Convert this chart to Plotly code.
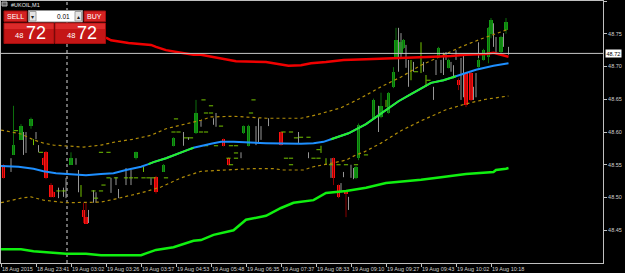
import plotly.graph_objects as go

# ---------------- axis labels ----------------
time_labels = ["18 Aug 2015", "18 Aug 23:41", "19 Aug 03:02", "19 Aug 03:26", "19 Aug 03:57",
               "19 Aug 04:53", "19 Aug 05:48", "19 Aug 06:35", "19 Aug 07:37", "19 Aug 08:33",
               "19 Aug 09:10", "19 Aug 09:27", "19 Aug 09:43", "19 Aug 10:02", "19 Aug 10:18"]
time_label_bars = [0, 14, 28, 42, 56, 70, 84, 98, 112, 126, 140, 154, 168, 182, 196]
price_ticks = [48.45, 48.50, 48.55, 48.60, 48.65, 48.70, 48.75, 48.80]
last_price = 48.72
day_separator_bar = 26.4
symbol_title = "#UKOIL,M1"

# ---------------- candles ----------------
bull_idx = [5, 8, 12, 28, 54, 65, 69, 78, 97, 99, 142, 143, 149, 152, 155, 157, 158, 160, 161, 175, 179, 191, 193, 195, 196, 200, 202]
bull_open = [48.565, 48.588, 48.609, 48.550, 48.560, 48.539, 48.579, 48.598, 48.598, 48.579, 48.530, 48.560, 48.621, 48.623, 48.629, 48.669, 48.713, 48.721, 48.728, 48.715, 48.698, 48.699, 48.710, 48.715, 48.749, 48.722, 48.756]
bull_close = [48.580, 48.609, 48.620, 48.560, 48.569, 48.550, 48.591, 48.629, 48.609, 48.609, 48.547, 48.611, 48.649, 48.640, 48.660, 48.692, 48.740, 48.737, 48.740, 48.728, 48.710, 48.710, 48.725, 48.759, 48.771, 48.745, 48.768]
bull_high = [48.640, 48.612, 48.622, 48.569, 48.570, 48.551, 48.592, 48.649, 48.610, 48.611, 48.548, 48.613, 48.651, 48.660, 48.661, 48.699, 48.759, 48.740, 48.742, 48.730, 48.712, 48.713, 48.727, 48.760, 48.774, 48.747, 48.774]
bull_low = [48.565, 48.588, 48.605, 48.550, 48.558, 48.539, 48.578, 48.597, 48.597, 48.578, 48.528, 48.557, 48.620, 48.621, 48.628, 48.667, 48.712, 48.719, 48.727, 48.713, 48.697, 48.698, 48.709, 48.705, 48.743, 48.720, 48.750]

bear_idx = [1, 17, 18, 20, 21, 33, 34, 62, 89, 91, 112, 133, 135, 138, 183, 186, 188]
bear_open = [48.550, 48.560, 48.569, 48.519, 48.508, 48.481, 48.470, 48.531, 48.589, 48.560, 48.600, 48.560, 48.519, 48.509, 48.679, 48.690, 48.690]
bear_close = [48.530, 48.550, 48.530, 48.501, 48.501, 48.470, 48.460, 48.508, 48.579, 48.550, 48.580, 48.530, 48.501, 48.505, 48.672, 48.641, 48.649]
bear_high = [48.551, 48.561, 48.571, 48.522, 48.509, 48.492, 48.492, 48.533, 48.590, 48.561, 48.601, 48.561, 48.520, 48.510, 48.682, 48.692, 48.692]
bear_low = [48.529, 48.549, 48.528, 48.500, 48.500, 48.461, 48.460, 48.506, 48.578, 48.549, 48.579, 48.519, 48.499, 48.470, 48.664, 48.638, 48.647]

# doji bars (gray range lines)
gray_idx = [4, 9, 10, 14, 15, 23, 25, 26, 30, 31, 35, 37, 38, 44, 46, 47, 50, 52, 60, 73,
            75, 80, 85, 86, 96, 102, 103, 104, 107, 119, 123, 132, 136, 137, 139, 140, 141, 151, 159, 160,
            162, 163, 165, 169, 173, 174, 176, 177, 178, 180, 181, 182, 184, 185, 189, 190, 191, 197, 198, 201, 203]
gray_high = [48.560, 48.600, 48.600, 48.600, 48.580, 48.515, 48.515, 48.530, 48.560, 48.542, 48.481, 48.511, 48.508, 48.530, 48.531, 48.513, 48.545, 48.542, 48.531, 48.600,
             48.592, 48.618, 48.621, 48.629, 48.569, 48.609, 48.621, 48.609, 48.621, 48.600, 48.569, 48.560, 48.522, 48.539, 48.501, 48.550, 48.545, 48.640, 48.759, 48.751,
             48.733, 48.710, 48.707, 48.707, 48.669, 48.710, 48.710, 48.721, 48.722, 48.707, 48.702, 48.725, 48.713, 48.718, 48.669, 48.690, 48.737, 48.766, 48.745, 48.751, 48.730]
gray_low = [48.539, 48.565, 48.568, 48.589, 48.569, 48.499, 48.501, 48.499, 48.550, 48.508, 48.461, 48.492, 48.492, 48.507, 48.519, 48.499, 48.519, 48.519, 48.519, 48.579,
            48.588, 48.608, 48.611, 48.608, 48.560, 48.580, 48.583, 48.588, 48.609, 48.583, 48.560, 48.530, 48.508, 48.531, 48.481, 48.530, 48.528, 48.600, 48.692, 48.713,
            48.698, 48.669, 48.692, 48.692, 48.649, 48.687, 48.690, 48.687, 48.710, 48.692, 48.682, 48.710, 48.649, 48.653, 48.649, 48.653, 48.707, 48.730, 48.721, 48.730, 48.718]

# thin lime bars
lime_idx = [13, 32, 57, 128, 130, 154, 164, 168, 170]
lime_high = [48.589, 48.519, 48.547, 48.579, 48.560, 48.649, 48.710, 48.737, 48.687]
lime_low = [48.580, 48.501, 48.539, 48.568, 48.550, 48.638, 48.679, 48.690, 48.669]

# flat bars (small dashes)
flat_idx = [6, 16, 23, 25, 37, 38, 40, 40, 41, 43, 43, 46, 50, 52, 54, 57, 59, 61, 66, 69,
            70, 71, 74, 76, 80, 81, 82, 82, 82, 84, 84, 86, 88, 91, 92, 92, 94, 94, 94, 100,
            101, 113, 114, 116, 116, 116, 118, 120, 123, 125, 127, 127, 132, 135, 138, 142, 146, 166, 171]
flat_price = [48.602, 48.569, 48.510, 48.510, 48.510, 48.499, 48.510, 48.569, 48.519, 48.569,
              48.530, 48.530, 48.530, 48.530, 48.530, 48.530, 48.530, 48.530, 48.530, 48.600,
              48.620, 48.600, 48.591, 48.591, 48.600, 48.649, 48.629, 48.600, 48.579, 48.629,
              48.640, 48.579, 48.609, 48.560, 48.579, 48.550, 48.579, 48.568, 48.560, 48.629,
              48.649, 48.600, 48.560, 48.600, 48.560, 48.550, 48.591, 48.592, 48.592, 48.560,
              48.560, 48.573, 48.550, 48.550, 48.550, 48.550, 48.565, 48.692, 48.679]

# ---------------- indicators ----------------
red_idx = [42, 44, 51, 60, 62, 66, 72, 77, 80, 84, 88, 94, 106, 110, 115, 120, 124, 130, 137, 146, 157, 173, 180, 186, 194, 197, 200, 203]
red_val = [48.744, 48.740, 48.736, 48.733, 48.730, 48.725, 48.721, 48.718, 48.718, 48.715, 48.713, 48.708, 48.707, 48.704, 48.701, 48.702, 48.705, 48.707, 48.710, 48.711, 48.713, 48.715, 48.716, 48.718, 48.719, 48.721, 48.718, 48.715]

ma_idx = [0, 7, 13, 17, 22, 26, 34, 40, 45, 50, 56, 59, 61, 66, 72, 75, 77, 80, 84, 88,
          93, 106, 114, 120, 125, 129, 132, 139, 146, 150, 155, 159, 164, 168, 172, 177, 182, 190, 197, 203]
ma_val = [48.548, 48.547, 48.544, 48.540, 48.537, 48.536, 48.534, 48.536, 48.537, 48.542, 48.547, 48.551, 48.554, 48.560, 48.568, 48.573, 48.576, 48.579, 48.582, 48.585,
          48.585, 48.583, 48.582, 48.582, 48.583, 48.585, 48.589, 48.598, 48.612, 48.623, 48.637, 48.647, 48.658, 48.667, 48.675, 48.679, 48.685, 48.695, 48.701, 48.705]
ma_rising_spans = [(59, 77), (132, 182)]

env_up_idx = [0, 8, 13, 17, 21, 26, 33, 40, 46, 53, 60, 66, 73, 80, 84, 93, 106, 120, 126, 136, 144, 152, 160, 168, 176, 184, 192, 200, 203]
env_up_val = [48.603, 48.597, 48.588, 48.583, 48.580, 48.579, 48.577, 48.580, 48.585, 48.589, 48.595, 48.605, 48.611, 48.618, 48.623, 48.624, 48.621, 48.621, 48.626, 48.637, 48.652, 48.669, 48.684, 48.702, 48.716, 48.730, 48.742, 48.753, 48.757]
env_lo_idx = [0, 8, 12, 17, 26, 34, 40, 46, 56, 64, 72, 80, 88, 100, 109, 113, 121, 125, 133, 138, 142, 145, 152, 160, 168, 178, 186, 194, 203]
env_lo_val = [48.492, 48.499, 48.501, 48.496, 48.492, 48.492, 48.493, 48.498, 48.507, 48.516, 48.530, 48.540, 48.542, 48.544, 48.544, 48.542, 48.542, 48.547, 48.553, 48.557, 48.565, 48.569, 48.583, 48.602, 48.617, 48.634, 48.643, 48.650, 48.655]

low_idx = [0, 8, 13, 17, 22, 26, 34, 40, 48, 56, 62, 69, 77, 80, 85, 93, 98, 106, 112, 117,
           125, 130, 138, 146, 154, 164, 168, 176, 186, 197, 198, 202, 203]
low_val = [48.421, 48.421, 48.418, 48.417, 48.415, 48.414, 48.414, 48.412, 48.412, 48.412, 48.420, 48.424, 48.434, 48.435, 48.443, 48.450, 48.466, 48.472, 48.484, 48.492,
           48.496, 48.507, 48.510, 48.515, 48.522, 48.525, 48.527, 48.531, 48.536, 48.539, 48.542, 48.544, 48.545]

FONT = "Liberation Sans"


def segments(idx, hi, lo):
    xs, ys = [], []
    for i, h, l in zip(idx, hi, lo):
        xs += [i, i, None]
        ys += [l, h, None]
    return xs, ys


fig = go.Figure()

# gray doji ranges
gx, gy = segments(gray_idx, gray_high, gray_low)
fig.add_trace(go.Scatter(x=gx, y=gy, mode="lines", line=dict(color="#969696", width=1), hoverinfo="skip"))
# lime bars
lx, ly = segments(lime_idx, lime_high, lime_low)
fig.add_trace(go.Scatter(x=lx, y=ly, mode="lines", line=dict(color="#74c400", width=1), hoverinfo="skip"))
# wicks
bx, by = segments(bull_idx, bull_high, bull_low)
fig.add_trace(go.Scatter(x=bx, y=by, mode="lines", line=dict(color="#0c6e0c", width=1), hoverinfo="skip"))
rx, ry = segments(bear_idx, bear_high, bear_low)
fig.add_trace(go.Scatter(x=rx, y=ry, mode="lines", line=dict(color="#8a0000", width=1), hoverinfo="skip"))
# bodies
fig.add_trace(go.Bar(x=bull_idx, y=[abs(c - o) for o, c in zip(bull_open, bull_close)],
                     base=[min(o, c) for o, c in zip(bull_open, bull_close)],
                     width=1.5, marker=dict(color="#139a13", line=dict(width=0)), hoverinfo="skip"))
fig.add_trace(go.Bar(x=bear_idx, y=[abs(c - o) for o, c in zip(bear_open, bear_close)],
                     base=[min(o, c) for o, c in zip(bear_open, bear_close)],
                     width=1.5, marker=dict(color="#ff1010", line=dict(width=0)), hoverinfo="skip"))
# flat dashes
fig.add_trace(go.Scatter(x=flat_idx, y=flat_price, mode="markers",
                         marker=dict(symbol="line-ew", size=3, line=dict(color="#74c400", width=1)),
                         hoverinfo="skip"))

# envelopes
for ex, ev in [(env_up_idx, env_up_val), (env_lo_idx, env_lo_val)]:
    fig.add_trace(go.Scatter(x=ex, y=ev, mode="lines",
                             line=dict(color="#b08c08", width=1.2, dash="dot"), hoverinfo="skip"))
# lower green line
fig.add_trace(go.Scatter(x=low_idx, y=low_val, mode="lines",
                         line=dict(color="#10f010", width=2.5), hoverinfo="skip"))
# moving average blue + rising parts green
fig.add_trace(go.Scatter(x=ma_idx, y=ma_val, mode="lines",
                         line=dict(color="#1e8fff", width=2), hoverinfo="skip"))
for a, b in ma_rising_spans:
    sx = [i for i in ma_idx if a <= i <= b]
    sy = [v for i, v in zip(ma_idx, ma_val) if a <= i <= b]
    fig.add_trace(go.Scatter(x=sx, y=sy, mode="lines",
                             line=dict(color="#28f028", width=2), hoverinfo="skip"))
# red upper line
fig.add_trace(go.Scatter(x=red_idx, y=red_val, mode="lines",
                         line=dict(color="#f00000", width=2.5), hoverinfo="skip"))


# ---------------- overlay widget (one-click trading panel) ----------------
def px_x(x):
    return (x - 1) / 602.0


def px_y(y):
    return (263 - y) / 262.0


shapes = [
    dict(type="line", xref="x", yref="paper", x0=day_separator_bar, x1=day_separator_bar, y0=0, y1=1,
         line=dict(color="#d8d8d8", width=1, dash="dot"), layer="below"),
    dict(type="line", xref="paper", yref="y", x0=0, x1=1, y0=last_price, y1=last_price,
         line=dict(color="#c8c8c8", width=1), layer="above"),
]


def rect(x0, y0, x1, y1, fill, line=None):
    return dict(type="rect", xref="paper", yref="paper", x0=px_x(x0), x1=px_x(x1), y0=px_y(y1), y1=px_y(y0),
                fillcolor=fill, line=dict(width=1 if line else 0, color=line or fill), layer="above")


shapes += [
    rect(2, 2, 7, 6, "#606060", "#b0b0b0"),
    rect(4, 11, 27, 21.5, "#d42222", "#a01010"),
    rect(28.5, 10.5, 82.5, 22, "#ffffff", "#909090"),
    rect(29.5, 11.5, 36, 21, "#e4e4e4", "#a0a0a0"),
    rect(75, 11.5, 81.5, 21, "#e4e4e4", "#a0a0a0"),
    rect(84, 11, 105.5, 21.5, "#d42222", "#a01010"),
    rect(4, 23, 54, 43.5, "#c41616", "#a00c0c"),
    rect(4.5, 23.5, 53.5, 29, "#dc2a2a"),
    rect(55, 23, 105.5, 43.5, "#c41616", "#a00c0c"),
    rect(55.5, 23.5, 105, 29, "#dc2a2a"),
]


def label(x, y, text, size, color="#ffffff", anchor="center"):
    return dict(xref="paper", yref="paper", x=px_x(x), y=px_y(y), text=text, showarrow=False,
                xanchor=anchor, yanchor="middle", font=dict(family=FONT, size=size, color=color),
                borderpad=0)


annotations = [
    label(10, 4.5, symbol_title, 5.5, "#e8e8e8", "left"),
    label(15.5, 16.5, "SELL", 7),
    label(94.5, 16.5, "BUY", 7),
    label(71, 16.5, "0.01", 6.5, "#000000", "right"),
    label(32.7, 16.5, "▾", 6, "#202020"),
    label(78.3, 16.5, "▴", 6, "#202020"),
    label(19, 35.5, "48", 7.5),
    label(35.5, 33, "72", 18),
    label(70.5, 35.5, "48", 7.5),
    label(87, 33, "72", 18),
    dict(xref="paper", yref="y", x=1, y=last_price, xshift=2, text="48.72", showarrow=False,
         xanchor="left", yanchor="middle", bgcolor="#ffffff", borderpad=0.5,
         font=dict(family=FONT, size=5.5, color="#000000")),
]

fig.update_layout(
    width=625, height=273, autosize=False,
    margin=dict(l=1, r=22, t=1, b=10, pad=0),
    paper_bgcolor="#000000", plot_bgcolor="#000000",
    showlegend=False, barmode="overlay", bargap=0,
    shapes=shapes, annotations=annotations,
    xaxis=dict(range=[0, 240.8], tickmode="array", tickvals=time_label_bars, ticktext=time_labels,
               ticks="outside", ticklen=3, tickcolor="#c0c0c0", tickwidth=1,
               ticklabelposition="outside right", tickangle=0, automargin=False,
               showgrid=False, zeroline=False, showline=True, linecolor="#c0c0c0", linewidth=1, mirror=True,
               tickfont=dict(family=FONT, size=5.5, color="#d0d0d0"), fixedrange=True),
    yaxis=dict(range=[48.40, 48.80], side="right", tickmode="array", tickvals=price_ticks,
               ticktext=[f"{v:.2f}" for v in price_ticks], automargin=False,
               ticks="outside", ticklen=3, tickcolor="#c0c0c0", tickwidth=1,
               showgrid=False, zeroline=False, showline=True, linecolor="#c0c0c0", linewidth=1, mirror=True,
               tickfont=dict(family=FONT, size=5.5, color="#d0d0d0"), fixedrange=True),
)

fig.write_html("out.html", config={"displayModeBar": False})
